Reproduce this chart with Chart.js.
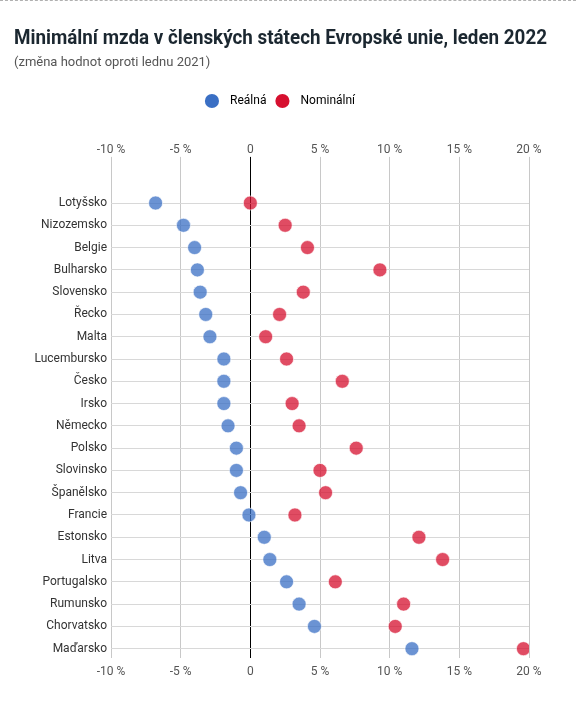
<!DOCTYPE html>
<html lang="cs">
<head>
<meta charset="utf-8">
<script src="https://cdn.jsdelivr.net/npm/chart.js@4/dist/chart.umd.min.js"></script>
<style>
  html, body { margin: 0; padding: 0; background: #fff; }
  #wrap { width: 576px; height: 720px; position: relative; box-sizing: border-box; border-top: 1px dashed #b0b0b0; }
</style>
</head>
<body>
<div id="wrap"><canvas id="chart"></canvas></div>
<script>
// Státy (shora dolů)
const states = ['Lotyšsko', 'Nizozemsko', 'Belgie', 'Bulharsko', 'Slovensko', 'Řecko', 'Malta',
    'Lucembursko', 'Česko', 'Irsko', 'Německo', 'Polsko', 'Slovinsko', 'Španělsko', 'Francie',
    'Estonsko', 'Litva', 'Portugalsko', 'Rumunsko', 'Chorvatsko', 'Maďarsko'];

// Reálná změna v %
const realna = [-6.8, -4.8, -4.0, -3.8, -3.6, -3.2, -2.9, -1.9, -1.9, -1.9, -1.6, -1.0, -1.0, -0.7, -0.1,
    1.0, 1.4, 2.6, 3.5, 4.6, 11.6];

// Nominální změna v %
const nominalni = [0.0, 2.5, 4.1, 9.3, 3.8, 2.1, 1.1, 2.6, 6.6, 3.0, 3.5, 7.6, 5.0, 5.4, 3.2,
    12.1, 13.8, 6.1, 11.0, 10.4, 19.6];

// Popisky osy x
const xTicks = [-10, -5, 0, 5, 10, 15, 20];

const fontFamily = 'Roboto, "DejaVu Sans", sans-serif';

const toPoints = arr => arr.map((v, i) => ({ x: v, y: i }));

const xAxis = (pos, pad, extra) => ({
    type: 'linear',
    position: pos,
    min: -10,
    max: 20,
    afterBuildTicks: scale => { scale.ticks = xTicks.map(v => ({ value: v })); },
    afterFit: scale => { scale.height += extra; },
    ticks: {
        color: '#555',
        font: { family: fontFamily, size: 12 },
        padding: pad,
        callback: v => v === 0 ? '0' : v + ' %'
    },
    grid: {
        drawTicks: false,
        color: ctx => ctx.tick && ctx.tick.value === 0 ? '#000' : '#c8c8c8',
        lineWidth: 1
    },
    border: { display: false }
});

const ctx = document.getElementById('chart').getContext('2d');
new Chart(ctx, {
    type: 'scatter',
    data: {
        datasets: [{
            label: 'Reálná',
            data: toPoints(realna),
            backgroundColor: 'rgba(58, 111, 196, 0.75)',
            borderColor: 'rgba(255, 255, 255, 0.6)',
            borderWidth: 1,
            pointRadius: 7,
            pointHoverRadius: 7
        }, {
            label: 'Nominální',
            data: toPoints(nominalni),
            backgroundColor: 'rgba(214, 16, 47, 0.75)',
            borderColor: 'rgba(255, 255, 255, 0.6)',
            borderWidth: 1,
            pointRadius: 7,
            pointHoverRadius: 7
        }]
    },
    options: {
        responsive: true,
        maintainAspectRatio: false,
        animation: false,
        layout: { padding: { left: 14, right: 29, top: 0, bottom: 34 } },
        scales: {
            x: xAxis('bottom', 7, 0),
            x2: xAxis('top', 0, 25.5),
            y: {
                type: 'linear',
                reverse: true,
                min: -2.07,
                max: 20.4,
                afterBuildTicks: scale => { scale.ticks = states.map((s, i) => ({ value: i })); },
                afterFit: scale => { scale.width = 97; },
                ticks: {
                    color: '#333',
                    font: { family: fontFamily, size: 12 },
                    padding: 4,
                    callback: v => states[v] ?? ''
                },
                grid: { drawTicks: false, color: '#d8d8d8' },
                border: { display: false }
            },
            // prázdná osa vpravo, jen kvůli odsazení
            y2: {
                type: 'linear',
                position: 'right',
                min: 0,
                max: 1,
                afterFit: scale => { scale.width = 18; },
                ticks: { display: false },
                grid: { display: false },
                border: { display: false }
            }
        },
        plugins: {
            title: {
                display: true,
                text: 'Minimální mzda v členských státech Evropské unie, leden 2022',
                align: 'start',
                color: '#1b2730',
                font: { family: fontFamily, size: 19.5, weight: 'bold' },
                padding: { top: 26, bottom: 5 }
            },
            subtitle: {
                display: true,
                text: '(změna hodnot oproti lednu 2021)',
                align: 'start',
                color: '#555',
                font: { family: fontFamily, size: 13 },
                padding: { top: 0, bottom: 14 }
            },
            legend: {
                position: 'top',
                labels: {
                    usePointStyle: true,
                    boxHeight: 10,
                    color: '#333',
                    font: { family: fontFamily, size: 12 },
                    padding: 10,
                    generateLabels: chart => [
                        { text: '\u2002Reálná', fillStyle: '#3a6fc4', strokeStyle: '#3a6fc4', pointStyle: 'circle', datasetIndex: 0, lineWidth: 0 },
                        { text: '\u2002Nominální', fillStyle: '#d6102f', strokeStyle: '#d6102f', pointStyle: 'circle', datasetIndex: 1, lineWidth: 0 }
                    ]
                }
            },
            tooltip: { enabled: false }
        }
    }
});
</script>
</body>
</html>
